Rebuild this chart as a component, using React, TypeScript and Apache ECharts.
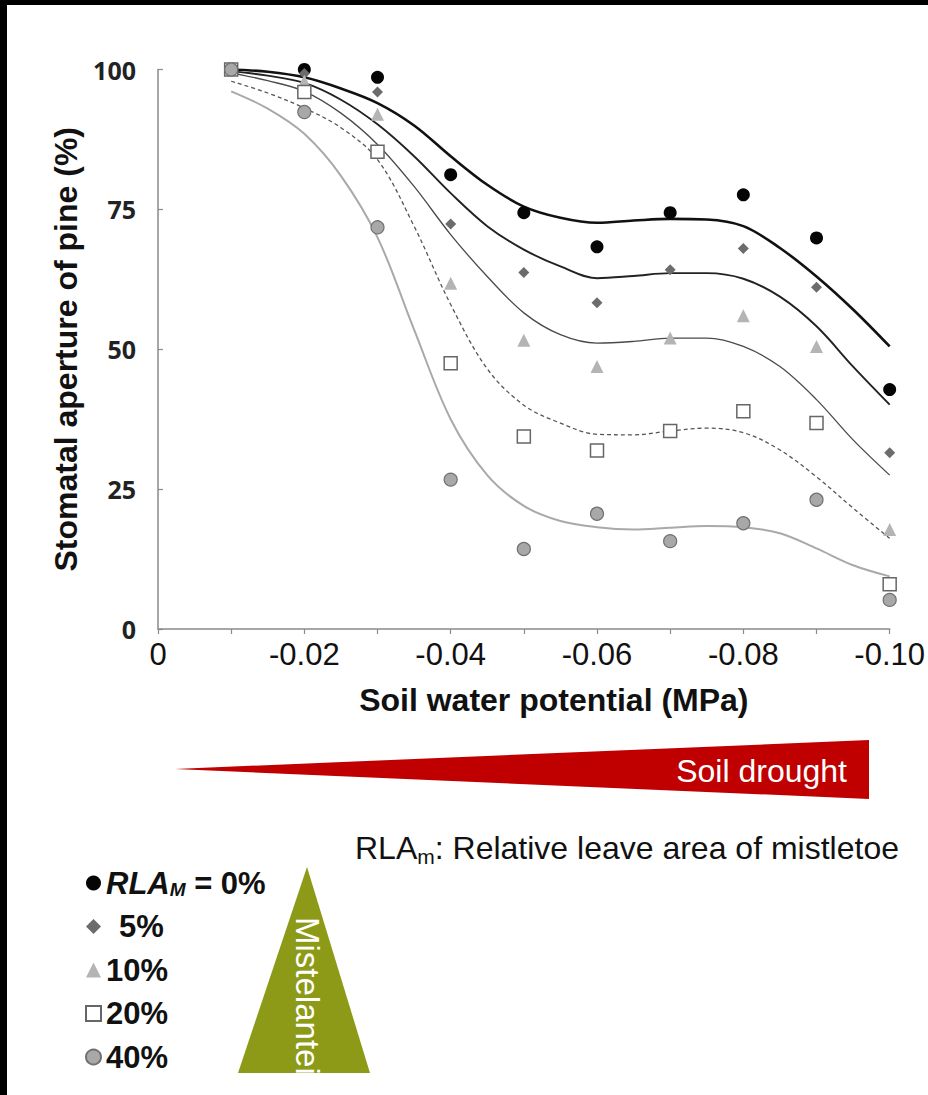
import { useEffect, useRef } from "react";
import * as echarts from "echarts";

// Soil water potential (MPa) of the measurements
const potentials = [-0.01, -0.02, -0.03, -0.04, -0.05, -0.06, -0.07, -0.08, -0.09, -0.1];

// Stomatal aperture of pine (%) per relative leaf area of mistletoe
const rla0 = [100, 100, 98.6, 81.2, 74.4, 68.3, 74.4, 77.6, 69.9, 42.8];
const rla5 = [100, 99.3, 96.0, 72.4, 63.7, 58.3, 64.2, 68.0, 61.1, 31.5];
const rla10 = [100, 97.9, 92.0, 61.8, 51.6, 46.9, 52.0, 56.0, 50.5, 17.8];
const rla20 = [100, 96.0, 85.3, 47.5, 34.4, 31.9, 35.4, 38.9, 36.8, 8.0];
const rla40 = [100, 92.4, 71.8, 26.7, 14.3, 20.6, 15.7, 18.9, 23.1, 5.2];

// Fitted curves
const fitX = [
  -0.01, -0.015, -0.02, -0.025, -0.03, -0.035, -0.04, -0.045, -0.05, -0.055,
  -0.06, -0.065, -0.07, -0.075, -0.08, -0.085, -0.09, -0.095, -0.1,
];
const fit0 = [100, 99.6, 98.6, 96.6, 94.0, 90.0, 84.5, 79.4, 75.5, 73.5, 72.6, 73.0, 73.3, 73.2, 72.0, 68.1, 63.0, 57.1, 50.5];
const fit5 = [99.7, 98.9, 97.6, 94.6, 90.2, 84.5, 77.9, 72.0, 67.8, 64.8, 62.7, 63.1, 63.6, 63.6, 62.6, 59.4, 54.1, 46.9, 40.1];
const fit10 = [99.4, 98.0, 96.1, 92.2, 86.6, 79.1, 70.5, 63.0, 56.5, 52.6, 51.1, 51.4, 52.0, 52.0, 50.5, 46.9, 41.0, 33.8, 27.5];
const fit20 = [97.9, 95.8, 93.1, 89.6, 83.9, 72.0, 58.0, 46.5, 40.0, 36.8, 34.8, 34.7, 35.4, 35.9, 35.1, 32.0, 27.2, 21.6, 16.2];
const fit40 = [96.1, 93.0, 88.5, 81.0, 70.0, 53.5, 37.5, 27.5, 22.0, 19.3, 18.2, 17.8, 18.1, 18.4, 18.2, 17.1, 14.4, 11.4, 9.4];

const groupNames = ["0%", "5%", "10%", "20%", "40%"];

const xTitle = "Soil water potential (MPa)";
const yTitle = "Stomatal aperture of pine (%)";

const SANS = "'Liberation Sans', Arial, Helvetica, sans-serif";

export default function App() {
  const ref = useRef<HTMLDivElement>(null);

  useEffect(() => {
    document.body.style.margin = "0";
    document.body.style.background = "#fff";
    const chart = echarts.init(ref.current!, null, { renderer: "svg" });

    const pts = (xs: number[], ys: number[]) => xs.map((x, i) => [x, ys[i]]);

    const fitStyles = [
      { color: "#111", width: 2.6, type: "solid" },
      { color: "#222", width: 1.9, type: "solid" },
      { color: "#4a4a4a", width: 1.3, type: "solid" },
      { color: "#555", width: 1.3, type: [4, 3] },
      { color: "#a9a9a9", width: 2, type: "solid" },
    ];
    const fits = [fit0, fit5, fit10, fit20, fit40];
    const meas = [rla0, rla5, rla10, rla20, rla40];
    const symbols = ["circle", "diamond", "triangle", "rect", "circle"];
    const sizes = [13, 11, 13, 13, 13];
    const itemStyles = [
      { color: "#050505", opacity: 1 },
      { color: "#6c6c6c", opacity: 1 },
      { color: "#b4b4b4", opacity: 1 },
      { color: "#ffffff", borderColor: "#666", borderWidth: 1.5, opacity: 1 },
      { color: "#a8a8a8", borderColor: "#707070", borderWidth: 1.2, opacity: 1 },
    ];

    const series: any[] = [];
    fits.forEach((f, i) => {
      series.push({
        name: "fit " + groupNames[i],
        type: "line",
        data: pts(fitX, f),
        smooth: 0.35,
        showSymbol: false,
        silent: true,
        z: 2,
        lineStyle: fitStyles[i],
      });
    });
    meas.forEach((m, i) => {
      series.push({
        name: groupNames[i],
        type: "scatter",
        data: pts(potentials, m),
        symbol: symbols[i],
        symbolSize: sizes[i],
        itemStyle: itemStyles[i],
        z: 3 + i,
      });
    });

    const legendText = { fontFamily: SANS, fontWeight: "bold", fontSize: 31, lineHeight: 32, color: "#111" };

    chart.setOption({
      animation: false,
      backgroundColor: "#fff",
      grid: { left: 158, right: 37, top: 69.5, bottom: 466 },
      xAxis: {
        type: "value",
        min: -0.1,
        max: 0,
        interval: 0.01,
        inverse: true,
        name: xTitle,
        nameLocation: "middle",
        nameGap: 55,
        nameTextStyle: { fontFamily: SANS, fontWeight: "bold", fontSize: 32, color: "#111", padding: [0, 0, 0, 60] },
        axisLine: { lineStyle: { color: "#8a8a8a", width: 1.5 } },
        axisTick: { inside: false, length: 5, lineStyle: { color: "#8a8a8a", width: 1.2 } },
        splitLine: { show: false },
        axisLabel: {
          margin: 10,
          fontFamily: SANS,
          fontSize: 31,
          color: "#111",
          formatter: (v: number) => {
            const k = Math.round(-v * 100);
            if (k === 0) return "0";
            if (k % 2 !== 0) return "";
            return "-" + (k / 100).toFixed(2);
          },
        },
      },
      yAxis: {
        type: "value",
        min: 0,
        max: 100,
        interval: 25,
        name: yTitle,
        nameLocation: "middle",
        nameGap: 72,
        nameTextStyle: { fontFamily: SANS, fontWeight: "bold", fontSize: 32, color: "#111" },
        axisLine: { show: true, lineStyle: { color: "#8a8a8a", width: 1.5 } },
        axisTick: { show: true, inside: true, length: 5, lineStyle: { color: "#8a8a8a", width: 1.2 } },
        splitLine: { show: false },
        axisLabel: {
          margin: 22,
          fontFamily: "'Open Sans', sans-serif",
          fontWeight: "bold",
          fontSize: 25,
          color: "#222",
        },
      },
      legend: {
        data: groupNames,
        orient: "vertical",
        left: 80,
        top: 862,
        itemWidth: 15,
        itemHeight: 15,
        itemGap: 11.5,
        selectedMode: false,
        textStyle: {
          ...legendText,
          rich: {
            i: { ...legendText, fontStyle: "italic" },
            s: { fontFamily: SANS, fontWeight: "bold", fontStyle: "italic", fontSize: 19, lineHeight: 12, verticalAlign: "bottom", color: "#111" },
            n: { ...legendText },
            f: { ...legendText, padding: [0, 0, 0, 13] },
          },
        },
        formatter: (name: string) => {
          if (name === "0%") return "{i|RLA}{s|M}{n| = 0%}";
          if (name === "5%") return "{f|5%}";
          return "{n|" + name + "}";
        },
      },
      graphic: [
        { type: "rect", shape: { x: 0, y: 0, width: 928, height: 5 }, style: { fill: "#000" }, silent: true },
        { type: "rect", shape: { x: 0, y: 0, width: 7, height: 1095 }, style: { fill: "#000" }, silent: true },
        {
          type: "polygon",
          shape: { points: [[175, 769], [869, 740], [869, 799]] },
          style: { fill: "#c00000" },
          silent: true,
        },
        {
          type: "text",
          x: 847,
          y: 771,
          style: { text: "Soil drought", fill: "#fff", font: "32px " + SANS, align: "right", verticalAlign: "middle" },
          silent: true,
        },
        {
          type: "polygon",
          shape: { points: [[238, 1073], [370, 1073], [307, 867]] },
          style: { fill: "#8c9a17" },
          silent: true,
        },
        {
          type: "text",
          x: 307,
          y: 917,
          rotation: -Math.PI / 2,
          style: { text: "Mistelanteil", fill: "#fff", font: "33px " + SANS, align: "left", verticalAlign: "middle" },
          silent: true,
          z: 10,
        },
        {
          type: "text",
          x: 355,
          y: 848,
          style: {
            text: "{a|RLA}{b|m}{a|: Relative leave area of mistletoe}",
            verticalAlign: "middle",
            align: "left",
            rich: {
              a: { fontFamily: SANS, fontSize: 32, lineHeight: 38, fill: "#111", verticalAlign: "middle" },
              b: { fontFamily: SANS, fontSize: 21, lineHeight: 14, fill: "#111", verticalAlign: "bottom" },
            },
          },
          silent: true,
        },
      ],
      series,
    });

    return () => chart.dispose();
  }, []);

  return (
    <div
      ref={ref}
      style={{ position: "absolute", left: 0, top: 0, width: 928, height: 1095, background: "#fff" }}
    />
  );
}
